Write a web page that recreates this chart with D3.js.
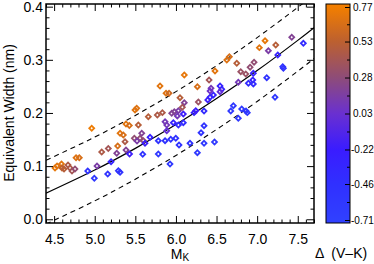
<!DOCTYPE html>
<html><head><meta charset="utf-8">
<script src="https://cdn.jsdelivr.net/npm/d3@7"></script>
<style>body{margin:0;background:#fff}svg{display:block}text{font-family:"Liberation Sans",Arial,Helvetica,sans-serif}</style>
</head><body><svg id="c" width="374" height="264"></svg>
<script>
// ---- data ----
const mk = [4.511,4.536,4.591,4.597,4.622,4.671,4.696,4.720,4.757,4.770,4.810,4.914,4.963,4.995,5.028,5.086,5.167,5.160,5.201,5.271,
5.283,5.291,5.312,5.312,5.352,5.373,5.385,5.426,5.385,5.429,5.488,5.496,5.517,5.537,5.558,5.579,5.599,5.521,5.619,5.681,
5.591,5.660,5.771,5.833,5.804,5.878,5.915,5.866,5.887,5.887,5.948,5.980,6.030,6.017,6.091,5.968,6.030,6.091,5.783,5.866,
5.936,5.998,6.038,5.783,5.927,6.050,6.103,6.079,6.103,6.173,6.223,6.244,6.264,6.276,6.264,6.309,6.346,6.346,6.346,6.392,
6.420,6.461,6.408,6.432,6.420,6.475,6.481,6.543,6.564,6.543,6.626,6.658,6.749,6.768,6.798,6.860,6.913,6.962,6.953,6.946,
6.892,6.953,7.027,7.097,7.138,7.229,7.254,7.118,7.315,7.323,7.426,7.569,7.220,6.707,6.675,6.810,6.863,6.879,6.768];
const ew = [0.0965,0.1003,0.1041,0.0965,0.0946,0.1022,0.0965,0.0908,0.0946,0.1157,0.1157,0.0908,0.1712,0.0771,0.1003,0.1266,0.1332,0.0852,0.1084,0.1242,
0.1379,0.0914,0.0884,0.1618,0.1586,0.1460,0.1793,0.1765,0.1304,0.1229,0.1524,0.2056,0.2088,0.1774,0.1524,0.1618,0.1479,0.1473,0.1430,0.1543,
0.1223,0.1930,0.1962,0.2006,0.2508,0.2371,0.2371,0.1836,0.1774,0.1667,0.1994,0.2024,0.2043,0.1944,0.1981,0.1817,0.1774,0.1817,0.1479,0.1479,
0.1505,0.1524,0.1398,0.1229,0.1040,0.2288,0.2194,0.2107,0.2715,0.1430,0.2006,0.2043,0.2495,0.2207,0.1253,0.1629,0.2038,0.1761,0.1430,0.2245,
0.2295,0.2339,0.2621,0.2465,0.2414,0.1454,0.2790,0.2508,0.2446,0.2401,0.2997,0.3059,0.2935,0.2578,0.2777,0.2734,0.2860,0.2954,0.2747,0.2621,
0.2559,0.2546,0.3229,0.3360,0.3172,0.3279,0.3091,0.2664,0.2871,0.2841,0.3424,0.3311,0.2295,0.2137,0.2038,0.2075,0.2038,0.2006,0.1900];
const dvk = [0.72,0.70,0.70,0.55,0.50,0.45,0.45,0.40,0.30,0.68,0.65,-0.50,0.75,-0.60,0.15,0.45,0.40,-0.50,-0.30,0.20,
0.65,-0.50,-0.50,0.70,0.65,0.45,0.70,0.65,0.20,-0.20,0.30,0.70,0.68,0.50,0.30,0.20,0.30,0.15,-0.20,-0.30,
-0.50,0.50,0.45,0.45,0.70,0.68,0.60,0.10,0.10,0.00,0.20,0.20,0.15,0.10,-0.20,-0.30,-0.40,-0.40,-0.50,-0.50,
-0.50,-0.50,-0.50,-0.60,-0.60,0.50,0.20,0.40,0.72,-0.50,-0.30,-0.20,0.65,0.35,-0.60,-0.50,-0.40,-0.50,-0.60,-0.20,
-0.30,-0.30,0.40,0.10,0.05,-0.60,0.70,-0.30,-0.30,0.00,0.68,0.65,0.50,0.10,0.35,0.35,0.30,0.30,-0.30,-0.30,
-0.40,-0.40,0.70,0.72,0.15,0.50,-0.30,-0.50,-0.50,-0.50,0.20,-0.40,-0.60,-0.60,-0.60,-0.60,-0.60,-0.60,-0.60];

const fitMK = [4.4,5.0,5.5,6.0,6.5,7.0,7.5,7.7];
const fitEW = [0.049,0.0926,0.1334,0.1781,0.2270,0.2797,0.3366,0.3604];
const upperEW = [0.111,0.1546,0.1954,0.2401,0.2890,0.3417,0.3986,0.4224];
const lowerEW = [-0.009,0.0346,0.0754,0.1201,0.1690,0.2217,0.2786,0.3024];

const xTicks = [4.5,5.0,5.5,6.0,6.5,7.0,7.5];
const yTicks = [0.0,0.1,0.2,0.3,0.4];
const xMinor = [4.4,4.6,4.7,4.8,4.9,5.1,5.2,5.3,5.4,5.6,5.7,5.8,5.9,6.1,6.2,6.3,6.4,6.6,6.7,6.8,6.9,7.1,7.2,7.3,7.4,7.6,7.7];
const yMinor = [0.02,0.04,0.06,0.08,0.12,0.14,0.16,0.18,0.22,0.24,0.26,0.28,0.32,0.34,0.36,0.38];
const cbTicks = [0.77,0.53,0.28,0.03,-0.22,-0.46,-0.71];
const cbLabels = ["0.77","0.53","0.28","0.03","-0.22","-0.46","-0.71"];
const cbMinor = [0.65,0.405,0.155,-0.095,-0.34,-0.585];
const cbStops = [-0.71,-0.46,-0.22,0.03,0.28,0.53,0.77];
const cbColors = ["#3040ff","#3030ff","#3a1cff","#6a30d0","#8e4c78","#bc6030","#f27e00"];

// ---- layout ----
const svg = d3.select("#c");
const L=46,R=314,T=4,B=223;
const x = d3.scaleLinear().domain([4.4,7.7]).range([L,R]);
const y = d3.scaleLinear().domain([-0.007,0.405]).range([B,T]);
const color = d3.scaleLinear().domain(cbStops).range(cbColors);

svg.append("rect").attr("width",374).attr("height",264).attr("fill","#fff");
svg.append("clipPath").attr("id","clip").append("rect")
  .attr("x",L).attr("y",T).attr("width",R-L).attr("height",B-T);
const plot = svg.append("g").attr("clip-path","url(#clip)");

const line = d3.line().x((d,i)=>x(fitMK[i])).y(d=>y(d)).curve(d3.curveNatural);
plot.append("path").attr("d",line(fitEW)).attr("fill","none").attr("stroke","#000").attr("stroke-width",1.2);
[upperEW,lowerEW].forEach(arr=>{
  plot.append("path").attr("d",line(arr)).attr("fill","none").attr("stroke","#000")
    .attr("stroke-width",1.1).attr("stroke-dasharray","5,4");
});

const sym = d3.symbol().type(d3.symbolSquare).size(12);
plot.selectAll("path.pt").data(mk).join("path").attr("class","pt")
  .attr("d",sym())
  .attr("transform",(d,i)=>`translate(${x(d)},${y(ew[i])}) rotate(45)`)
  .attr("fill","none").attr("stroke",(d,i)=>color(dvk[i])).attr("stroke-width",1.8);

// ---- axes ----
function styleAxis(g){ g.select(".domain").remove(); g.selectAll("line").attr("stroke","#000").attr("stroke-width",1); }
const fmt = d3.format(".1f");
svg.append("g").attr("transform",`translate(0,${B})`)
  .call(d3.axisBottom(x).tickValues(xTicks).tickSize(-7).tickPadding(11).tickFormat(fmt))
  .call(styleAxis).call(g=>g.selectAll("text").attr("font-size",14).attr("fill","#000"));
svg.append("g").attr("transform",`translate(0,${B})`)
  .call(d3.axisBottom(x).tickValues(xMinor).tickSize(-3.5).tickFormat("")).call(styleAxis);
svg.append("g").attr("transform",`translate(0,${T})`)
  .call(d3.axisTop(x).tickValues(xTicks).tickSize(-7).tickFormat("")).call(styleAxis);
svg.append("g").attr("transform",`translate(0,${T})`)
  .call(d3.axisTop(x).tickValues(xMinor).tickSize(-3.5).tickFormat("")).call(styleAxis);
svg.append("g").attr("transform",`translate(${L},0)`)
  .call(d3.axisLeft(y).tickValues(yTicks).tickSize(-7).tickPadding(3).tickFormat(fmt))
  .call(styleAxis).call(g=>g.selectAll("text").attr("font-size",14).attr("fill","#000"));
svg.append("g").attr("transform",`translate(${L},0)`)
  .call(d3.axisLeft(y).tickValues(yMinor).tickSize(-3.5).tickFormat("")).call(styleAxis);
svg.append("g").attr("transform",`translate(${R},0)`)
  .call(d3.axisRight(y).tickValues(yTicks).tickSize(-7).tickFormat("")).call(styleAxis);
svg.append("g").attr("transform",`translate(${R},0)`)
  .call(d3.axisRight(y).tickValues(yMinor).tickSize(-3.5).tickFormat("")).call(styleAxis);
svg.append("rect").attr("x",L).attr("y",T).attr("width",R-L).attr("height",B-T)
  .attr("fill","none").attr("stroke","#000").attr("stroke-width",1.5);

// titles
const xt = svg.append("text").attr("x",180).attr("y",259).attr("text-anchor","middle").attr("font-size",14).attr("fill","#000");
xt.append("tspan").text("M");
xt.append("tspan").attr("font-size",10).attr("dy",2).text("K");
svg.append("text").attr("transform","translate(14,113) rotate(-90)").attr("text-anchor","middle")
  .attr("font-size",14).attr("fill","#000").text("Equivalent Width (nm)");

// ---- colorbar ----
const cbX=326, cbW=24, cbT=4, cbB=223;
const cy = d3.scaleLinear().domain([-0.71,0.77]).range([220,7]);
const grad = svg.append("defs").append("linearGradient").attr("id","cbg")
  .attr("gradientUnits","userSpaceOnUse").attr("x1",0).attr("x2",0).attr("y1",cy(0.77)).attr("y2",cy(-0.71));
cbStops.slice().reverse().forEach(v=>grad.append("stop")
  .attr("offset",(0.77-v)/(0.77+0.71)).attr("stop-color",color(v)));
svg.append("rect").attr("x",cbX).attr("y",cbT).attr("width",cbW).attr("height",cbB-cbT)
  .attr("fill","url(#cbg)").attr("stroke","#000").attr("stroke-width",1);
svg.append("g").attr("transform",`translate(${cbX+cbW},0)`)
  .call(d3.axisRight(cy).tickValues(cbTicks).tickSize(-5).tickPadding(2).tickFormat((d,i)=>cbLabels[i]))
  .call(styleAxis).call(g=>g.selectAll("text").attr("font-size",10).attr("fill","#000")
    .attr("x",(d)=>d<0?1:3));
svg.append("g").attr("transform",`translate(${cbX+cbW},0)`)
  .call(d3.axisRight(cy).tickValues(cbMinor).tickSize(-3).tickFormat("")).call(styleAxis);
svg.append("text").attr("x",315).attr("y",258).attr("font-size",14).attr("fill","#000")
  .attr("xml:space","preserve").text("\u0394  (V\u2013K)");
</script></body></html>
